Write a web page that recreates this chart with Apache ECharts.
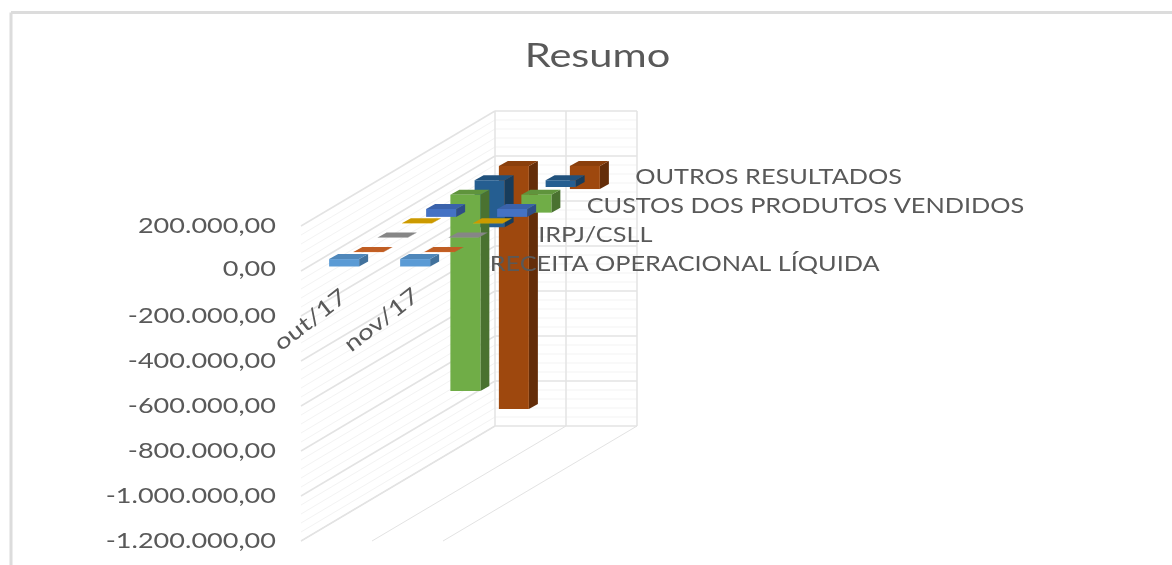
<!DOCTYPE html>
<html><head><meta charset="utf-8">
<style>html,body{margin:0;padding:0;background:#fff}#c{width:1172px;height:565px;filter:blur(0.4px)}</style>
<script src="https://cdn.jsdelivr.net/npm/echarts@6/dist/echarts.min.js"></script>
</head><body><div id="c"></div>
<script>
var title = 'Resumo';
var months = ['out/17', 'nov/17'];
var depthLabels = ['RECEITA OPERACIONAL LÍQUIDA', '', 'IRPJ/CSLL', '', 'CUSTOS DOS PRODUTOS VENDIDOS', '', 'OUTROS RESULTADOS', ''];
var serie0 = [33000, 33000];
var serie1 = [1000, 1000];
var serie2 = [1000, 1000];
var serie3 = [1000, 1000];
var serie4 = [-35000, -35000];
var serie5 = [-873000, -80000];
var serie6 = [-209000, -30000];
var serie7 = [-1080000, -103000];
var allSeries = [serie0, serie1, serie2, serie3, serie4, serie5, serie6, serie7];
var frontColors = ['#5B9BD5', '#ED7D31', '#A5A5A5', '#FFC000', '#4472C4', '#70AD47', '#255E91', '#9E480E'];
var topColors = ['#4F87BA', '#C05E24', '#868686', '#CC9A00', '#3A62AB', '#5F943C', '#20517C', '#8A3F0C'];
var sideColors = ['#41719C', '#A85420', '#7A7A7A', '#B08600', '#2E4D87', '#4A7230', '#173C5C', '#642D09'];
var majorTicks = [200000, 0, -200000, -400000, -600000, -800000, -1000000, -1200000];
var minorTicks = [];
for (var t = -1200000; t < 200000; t += 40000) { if (t % 200000 !== 0) minorTicks.push(t); }

var AXIS_MIN = -1200000, AXIS_MAX = 200000, AXIS_STEP = 200000;
var WALL_DX = 194, WALL_DY = -115, DEPTHS = depthLabels.length;
var STEP_DX = WALL_DX / DEPTHS, STEP_DY = WALL_DY / DEPTHS;
var BAR_DX = 9, BAR_DY = -5, BAR_W = 30 / 71, BAR_GAP = (1 - BAR_W) / 2;
var FONT = 'Lato, "Open Sans", sans-serif', TXT = '#595959';

function fmt(v) {
  var neg = v < 0, s = String(Math.abs(v)).replace(/\B(?=(\d{3})+(?!\d))/g, '.');
  return (neg ? '-' : '') + s + ',00';
}
function shiftFor(d) {
  return [(d + 0.5) * STEP_DX - 4.5, d * STEP_DY - 4.5];
}
function poly(pts, fill) {
  return { type: 'polygon', shape: { points: pts }, style: { fill: fill, stroke: null } };
}
function line(a, b, color, w) {
  return { type: 'line', shape: { x1: a[0], y1: a[1], x2: b[0], y2: b[1] }, style: { stroke: color, lineWidth: w, fill: null } };
}
function renderWall(params, api) {
  var v = api.value(0), major = api.value(1) === 1;
  var col = major ? '#E3E3E3' : '#F3F3F3', w = major ? 1.5 : 1;
  var a = api.coord([0, v]), b = api.coord([months.length, v]);
  var back0 = [a[0] + WALL_DX, a[1] + WALL_DY], back1 = [b[0] + WALL_DX, b[1] + WALL_DY];
  return { type: 'group', children: [line(a, back0, col, w), line(back0, back1, col, w)] };
}
function renderFrame(params, api) {
  var c = api.value(0);
  var top = api.coord([c, AXIS_MAX]), bot = api.coord([c, AXIS_MIN]);
  var col = '#E3E3E3';
  return { type: 'group', children: [
    line([top[0] + WALL_DX, top[1] + WALL_DY], [bot[0] + WALL_DX, bot[1] + WALL_DY], col, 1.5),
    line(bot, [bot[0] + WALL_DX, bot[1] + WALL_DY], col, 1)
  ] };
}
function renderBar(params, api) {
  var c = api.value(0), d = api.value(1), v = api.value(2);
  var s = shiftFor(d);
  var p0 = api.coord([c + BAR_GAP, 0]), p1 = api.coord([c + BAR_GAP + BAR_W, v]);
  var x0 = p0[0] + s[0], x1 = p1[0] + s[0];
  var y0 = p0[1] + s[1], y1 = p1[1] + s[1];
  var yt = Math.min(y0, y1), yb = Math.max(y0, y1);
  return { type: 'group', children: [
    poly([[x1, yt], [x1, yb], [x1 + BAR_DX, yb + BAR_DY], [x1 + BAR_DX, yt + BAR_DY]], sideColors[d]),
    poly([[x0, yt], [x1, yt], [x1 + BAR_DX, yt + BAR_DY], [x0 + BAR_DX, yt + BAR_DY]], topColors[d]),
    poly([[x0, yt], [x1, yt], [x1, yb], [x0, yb]], frontColors[d])
  ] };
}
function renderDepthLabel(params, api) {
  var d = api.value(0), s = shiftFor(d), p = api.coord([months.length, 0]);
  return { type: 'text', x: p[0] + s[0] + 39, y: p[1] + s[1] - 3, scaleX: 1.15,
    style: { text: depthLabels[d], x: 0, y: 0, fill: TXT, fontSize: 22, fontFamily: FONT, align: 'left', verticalAlign: 'middle' } };
}
function renderMonth(params, api) {
  var c = api.value(0), z = api.coord([c + 0.5, 0]);
  return { type: 'text', x: z[0] - 26, y: z[1] + 49, rotation: Math.PI * 38 / 180, scaleX: 1.25,
    style: { text: months[c], x: 0, y: 0, fill: TXT, fontSize: 22, fontFamily: FONT, align: 'center', verticalAlign: 'middle' } };
}
function renderTick(params, api) {
  var v = api.value(0), p = api.coord([0, v]);
  return { type: 'text', x: p[0] - 25, y: p[1] - (v === 0 ? 2 : 0), scaleX: 1.23,
    style: { text: fmt(v), x: 0, y: 0, fill: TXT, fontSize: 22, fontFamily: FONT, align: 'right', verticalAlign: 'middle' } };
}

var series = [];
series.push({ type: 'custom', name: 'wallMinor', z: 1, renderItem: renderWall, data: minorTicks.map(function (v) { return [v, 0]; }), silent: true });
series.push({ type: 'custom', name: 'wallMajor', z: 2, renderItem: renderWall, data: majorTicks.map(function (v) { return [v, 1]; }), silent: true });
series.push({ type: 'custom', name: 'frame', z: 2, renderItem: renderFrame, data: [[0], [1], [2]], silent: true });
allSeries.forEach(function (vals, d) {
  series.push({ type: 'custom', name: depthLabels[d] || ('s' + d), z: 10 + (DEPTHS - d), renderItem: renderBar,
    data: vals.map(function (v, c) { return [c, d, v]; }), silent: true });
});
series.push({ type: 'custom', name: 'depthLabels', z: 30, renderItem: renderDepthLabel,
  data: depthLabels.map(function (n, d) { return [d]; }).filter(function (r) { return depthLabels[r[0]]; }), silent: true });
series.push({ type: 'custom', name: 'months', z: 30, renderItem: renderMonth,
  data: months.map(function (m, c) { return [c]; }), silent: true });
series.push({ type: 'custom', name: 'valueLabels', z: 30, renderItem: renderTick,
  data: majorTicks.map(function (v) { return [v]; }), silent: true });

var chart = echarts.init(document.getElementById('c'), null, { renderer: 'canvas' });
chart.setOption({
  animation: false,
  backgroundColor: '#fff',
  tooltip: { show: false },
  legend: { show: false },
  grid: { left: 301, top: 226, width: 142, height: 315 },
  xAxis: { type: 'value', min: 0, max: months.length, show: false },
  yAxis: { type: 'value', min: AXIS_MIN, max: AXIS_MAX, interval: AXIS_STEP,
    axisLine: { show: false }, axisTick: { show: false }, splitLine: { show: false }, axisLabel: { show: false } },
  graphic: [
    { type: 'line', shape: { x1: 11, y1: 12.5, x2: 1172, y2: 12.5 }, style: { stroke: '#DCDCDC', lineWidth: 3 }, silent: true },
    { type: 'line', shape: { x1: 11, y1: 12.5, x2: 11, y2: 565 }, style: { stroke: '#DCDCDC', lineWidth: 3 }, silent: true },
    { type: 'text', x: 597.5, y: 56, scaleX: 1.26, silent: true,
      style: { text: title, x: 0, y: 0, fill: TXT, fontSize: 33, fontFamily: FONT, align: 'center', verticalAlign: 'middle' } }
  ],
  series: series
});
</script></body></html>
